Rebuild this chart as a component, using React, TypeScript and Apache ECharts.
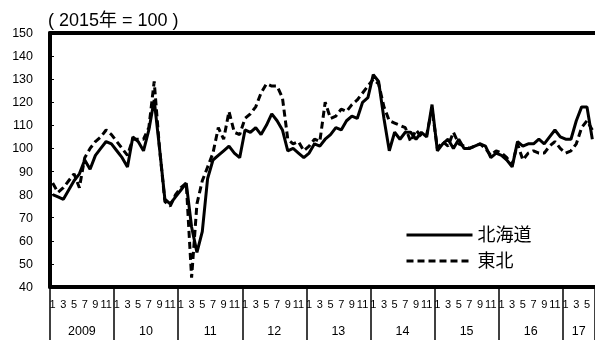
import React, { useEffect, useRef } from "react";
import * as echarts from "echarts";

const FONT = '"Liberation Sans", Arial, "Noto Sans CJK JP", sans-serif';

const years = [2009, 2010, 2011, 2012, 2013, 2014, 2015, 2016, 2017];
const yearLabels = ["2009", "10", "11", "12", "13", "14", "15", "16", "17"];
const monthsInLastYear = 6;

const hokkaido = [
  // 2009
  80, 79, 78, 82, 86, 89, 95, 91, 97, 100, 103, 102,
  // 2010
  99, 96, 92, 105, 103, 99, 108, 121, 100, 78, 76, 79,
  // 2011
  82, 85, 66, 55, 64, 87, 95, 97, 99, 101, 98, 96,
  // 2012
  108, 107, 109, 106, 110, 115, 112, 108, 99, 100, 98, 96,
  // 2013
  98, 102, 101, 104, 106, 109, 108, 112, 114, 113, 120, 122,
  // 2014
  132, 129, 113, 99, 107, 104, 107, 107, 104, 107, 105, 119,
  // 2015
  99, 102, 104, 100, 104, 100, 100, 101, 102, 101, 96, 98,
  // 2016
  97, 95, 92, 103, 101, 102, 102, 104, 102, 105, 108, 105,
  // 2017
  104, 104, 112, 118, 118, 104,
];

const tohoku = [
  // 2009
  85, 81, 83, 86, 89, 83, 96, 100, 103, 105, 108, 106,
  // 2010
  103, 100, 97, 104, 104, 104, 109, 129, 100, 77, 75, 80,
  // 2011
  83, 85, 44, 76, 86, 92, 98, 109, 104, 116, 107, 106,
  // 2012
  113, 115, 118, 124, 128, 127, 127, 122, 104, 102, 103, 99,
  // 2013
  101, 104, 103, 120, 113, 114, 117, 116, 119, 121, 124, 127,
  // 2014
  130, 128, 118, 112, 111, 110, 109, 103, 108, 105, 106, 117,
  // 2015
  100, 103, 101, 107, 102, 101, 100, 101, 102, 100, 97, 99,
  // 2016
  98, 96, 93, 102, 95, 98, 99, 98, 98, 101, 103, 100,
  // 2017
  98, 99, 102, 109, 112, 108,
];

const categories: string[] = [];
years.forEach((y, yi) => {
  const n = yi === years.length - 1 ? monthsInLastYear : 12;
  for (let m = 1; m <= n; m++) categories.push(`${y}/${m}`);
});

export default function App() {
  const ref = useRef<HTMLDivElement>(null);
  useEffect(() => {
    if (!ref.current) return;
    const chart = echarts.init(ref.current, undefined, { renderer: "svg" });
    const lastIdx = categories.length - 1;
    const lastYearStart = (years.length - 1) * 12;
    const lastYearMid = lastYearStart + Math.floor((lastIdx - lastYearStart) / 2);
    chart.setOption({
      animation: false,
      textStyle: { fontFamily: FONT },
      title: {
        text: "( 2015年 = 100 )",
        left: 48,
        top: 11,
        padding: 0,
        textStyle: { fontSize: 18, fontWeight: "normal", color: "#000", fontFamily: FONT },
      },
      legend: {
        orient: "vertical",
        left: 405,
        top: 226,
        padding: 0,
        itemWidth: 66,
        itemHeight: 14,
        itemGap: 8,
        data: ["北海道", "東北"],
        textStyle: { fontSize: 18, color: "#000", fontFamily: FONT },
        lineStyle: { width: 3 },
        itemStyle: { opacity: 0 },
      },
      grid: { left: 50, right: 0, top: 33, bottom: 53, containLabel: false },
      xAxis: [
        {
          type: "category",
          data: categories,
          position: "bottom",
          boundaryGap: true,
          axisLine: { lineStyle: { color: "#000", width: 4 } },
          axisTick: { show: false },
          axisLabel: {
            interval: (i: number) => i % 2 === 0,
            formatter: (v: string) => v.split("/")[1],
            fontSize: 11,
            color: "#000",
            margin: 11,
            fontFamily: FONT,
          },
          splitLine: { show: false },
        },
        {
          type: "category",
          data: categories,
          position: "bottom",
          boundaryGap: true,
          axisLine: { show: false },
          axisTick: {
            show: true,
            interval: (i: number) => i % 12 === 0,
            length: 56,
            lineStyle: { color: "#000", width: 1.5 },
          },
          axisLabel: {
            interval: (i: number) =>
              (i % 12 === 5 && i < lastYearStart) || i === lastYearMid,
            formatter: (_v: string, i: number) => yearLabels[Math.floor(i / 12)],
            fontSize: 12.5,
            color: "#000",
            margin: 38,
            padding: [0, 0, 0, 5],
            fontFamily: FONT,
          },
          splitLine: { show: false },
        },
        {
          type: "category",
          data: categories,
          position: "top",
          axisLine: { lineStyle: { color: "#000", width: 4 } },
          axisTick: { show: false },
          axisLabel: { show: false },
          splitLine: { show: false },
        },
      ],
      yAxis: {
        type: "value",
        min: 40,
        max: 150,
        interval: 10,
        axisLine: { show: true, lineStyle: { color: "#000", width: 4 } },
        axisTick: { show: true, inside: true, length: 4, lineStyle: { color: "#000" } },
        axisLabel: { fontSize: 12.5, color: "#000", margin: 17, fontFamily: FONT },
        splitLine: { show: false },
      },
      series: [
        {
          name: "北海道",
          type: "line",
          data: hokkaido,
          symbol: "none",
          lineStyle: { color: "#000", width: 3, type: "solid" },
          itemStyle: { color: "#000" },
        },
        {
          name: "東北",
          type: "line",
          data: tohoku,
          symbol: "none",
          lineStyle: { color: "#000", width: 3, type: [7, 4] },
          itemStyle: { color: "#000" },
        },
      ],
    });
    return () => chart.dispose();
  }, []);
  return (
    <div
      ref={ref}
      style={{ position: "fixed", left: 0, top: 0, width: 595, height: 340 }}
    />
  );
}
